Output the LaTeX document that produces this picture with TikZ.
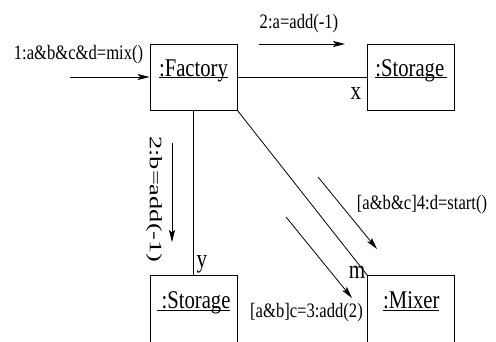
\documentclass[tikz,border=0pt]{standalone}
\usepackage{fontspec}
\setmainfont{Liberation Serif}[FakeStretch=0.81]
\usetikzlibrary{arrows.meta, positioning, calc}
\tikzset{
  objblock/.style={
    rectangle, draw, line width=0.8pt,
    minimum width=87pt, minimum height=66pt, inner sep=0pt,
    align=center, font=\fontsize{25.5}{30}\selectfont
  },
  msglabel/.style={inner sep=0pt, font=\fontsize{20.5}{24}\selectfont},
  rolelabel/.style={inner sep=0pt, font=\fontsize{26}{30}\selectfont},
  linkline/.style={draw, line width=0.8pt},
  msgline/.style={
    draw, line width=0.8pt, -{Stealth[length=12pt, width=6pt, inset=2.5pt]}
  }
}

\begin{document}
\begin{tikzpicture}[x=1pt, y=-1pt]
  \useasboundingbox (0,0) rectangle (496,341);
  \clip (0,0) rectangle (496,341);

  % Objects
  \node[objblock] (factory) at (193.5,77) {\underline{\smash{:Factory}}};
  \node[objblock, right=130pt of factory] (storeX) {\underline{\smash{:Storage}\kern3pt}};
  \node[objblock, below=165pt of factory, minimum height=68pt] (storeY) {\underline{\kern5pt\smash{:Storage}}};
  \node[objblock, below=165pt of storeX, minimum height=68pt] (mixer) {\underline{\smash{:Mixer}}};

  % Links
  \draw[linkline] (factory) -- (storeX);
  \draw[linkline] (factory) -- (storeY);
  \draw[linkline] (factory.south east) -- (mixer.north west);

  % Role names at the link ends
  \node[rolelabel, anchor=north east] (roleX) at ($(storeX.west)+(-6,10)$) {x};
  \node[rolelabel, anchor=south west] (roleY) at ($(storeY.north)+(3,-2)$) {y};
  \node[rolelabel, anchor=south east] (roleM) at ($(mixer.north west)+(-2,3)$) {m};

  % Messages
  \coordinate (mixFrom) at (70,77);
  \draw[msgline] (mixFrom) -- (factory.west);
  \node[msglabel] (mixMsg) at (78.5,55) {1:a\&b\&c\&d=mix()};

  \coordinate (addAFrom) at (259,44);
  \coordinate (addATo) at (345,44);
  \draw[msgline] (addAFrom) -- (addATo);
  \node[msglabel] (addAMsg) at (299,24) {2:a=add(-1)};

  \coordinate (addBFrom) at (172,143);
  \coordinate (addBTo) at (172,242);
  \draw[msgline] (addBFrom) -- (addBTo);
  \node[msglabel, rotate=-90, font=\fontsize{17.5}{20}\selectfont] (addBMsg) at (154,199.5) {\scalebox{1.86}[1]{2:b=add(-1)}};

  \coordinate (startFrom) at (318,177);
  \coordinate (startTo) at (377,249);
  \draw[msgline] (startFrom) -- (startTo);
  \node[msglabel] (startMsg) at (422,205) {[a\&b\&c]4:d=start()};

  \coordinate (addCFrom) at (286,217);
  \coordinate (addCTo) at (352,298);
  \draw[msgline] (addCFrom) -- (addCTo);
  \node[msglabel] (addCMsg) at (306.5,312.5) {[a\&b]c=3:add(2)};

\end{tikzpicture}
\end{document}
